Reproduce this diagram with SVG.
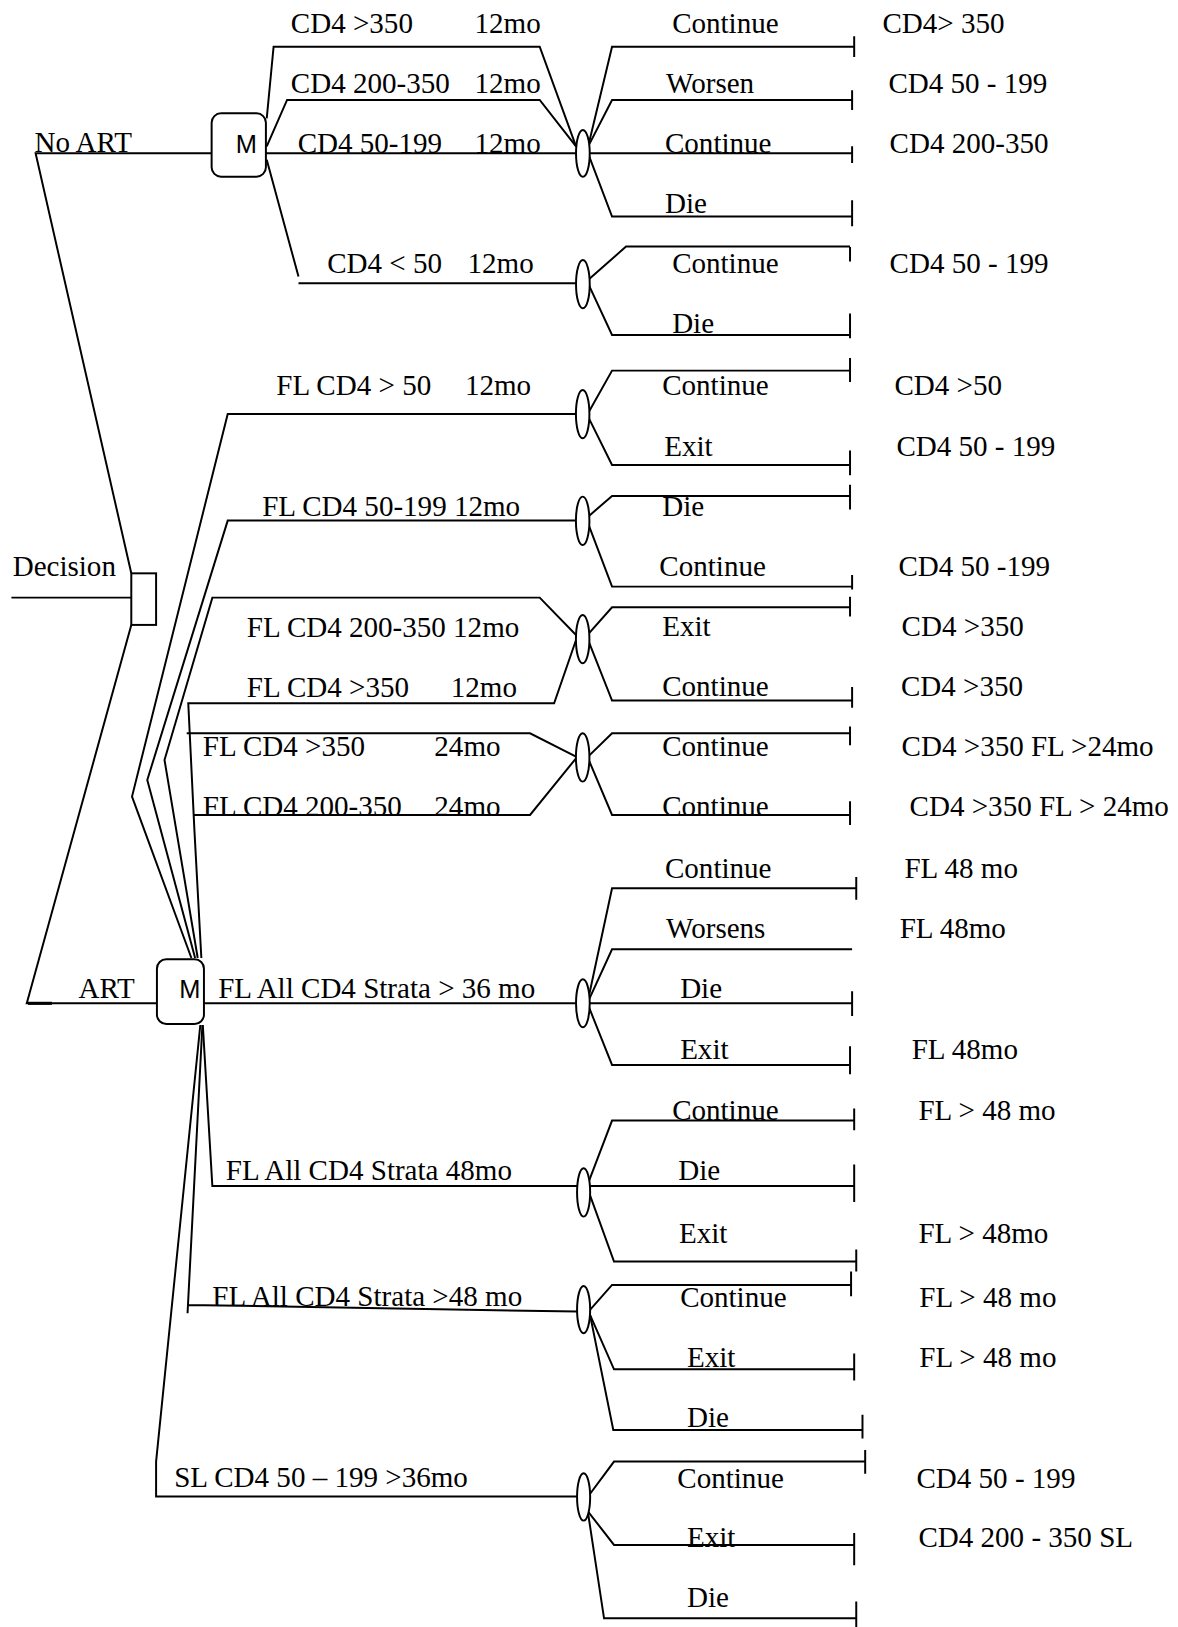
<svg xmlns="http://www.w3.org/2000/svg" width="1178" height="1627" viewBox="0 0 1178 1627">
<style>
.c{fill:none;stroke:#000;stroke-width:1.9;stroke-linejoin:miter}
.k{fill:none;stroke:#000;stroke-width:1.9}
.n{fill:#fff;stroke:#000;stroke-width:1.9}
.t{font-family:"Liberation Serif","Times New Roman",serif;font-size:28px;fill:#000}
.m{font-family:"Liberation Sans",Arial,sans-serif;font-size:24.5px;fill:#000;text-anchor:middle}
</style>
<rect x="0" y="0" width="1178" height="1627" fill="#fff"/>
<g transform="scale(1.03789)">
<g id="connectors">
<path class="c" d="M11,575.8 H126.5"/>
<path class="c" d="M126.5,552.4 L34.3,147.7 H203.9"/>
<path class="c" d="M126.5,602.1 L25.8,966.7 H151.2"/>
<path class="c" d="M27,966.7 H50" style="stroke-width:3"/>
<path class="c" d="M257,114 L263.6,45 H520 L555,141"/>
<path class="c" d="M257,141 L276.6,96.3 H520 L555,141"/>
<path class="c" d="M256.2,147.7 H555"/>
<path class="c" d="M257,154 L287.6,266.5 M287.6,273 H555"/>
<path class="c" d="M566.6,141.3 L589.7,45 H823"/>
<path class="c" d="M566.6,141.3 L589.7,96.3 H821"/>
<path class="c" d="M568,147.7 H821"/>
<path class="c" d="M566.6,147.7 L589.7,208.7 H821"/>
<path class="c" d="M566.6,269.7 L603.2,237.6 H819"/>
<path class="c" d="M566.6,273 L589.7,322.7 H819"/>
<path class="c" d="M184.4,923 L127.2,767.5 L219.4,398.9 H555"/>
<path class="c" d="M188,923 L141.9,751.5 L219.4,501.6 H555"/>
<path class="c" d="M190.5,923 L158.5,732.2 L204.6,575.8 H520 L555,611.8"/>
<path class="c" d="M194,923 L187.3,799.6 L181.4,677.6 H533.9 L555,616.6"/>
<path class="c" d="M179.9,706.5 H510.7 L555,729"/>
<path class="c" d="M186.2,785.2 H510.7 L555,730.6"/>
<path class="c" d="M566.6,398.2 L589.7,357.1 H819"/>
<path class="c" d="M566.6,401.4 L589.7,448 H819"/>
<path class="c" d="M566.6,497.8 L589.7,477.9 H819"/>
<path class="c" d="M566.6,504.2 L589.7,565.2 H821"/>
<path class="c" d="M564.6,613.4 L589.7,585.1 H819"/>
<path class="c" d="M566.6,616.6 L589.7,675 H821"/>
<path class="c" d="M566.6,729 L589.7,706.5 H819"/>
<path class="c" d="M566.6,730.6 L589.7,785.2 H819"/>
<path class="c" d="M196.5,966.7 H555"/>
<path class="c" d="M195.4,987.6 L204.6,1142.7 H556"/>
<path class="c" d="M195,987.6 L180.7,1265.3 M180.7,1257.3 L556,1263.7"/>
<path class="c" d="M193,987.6 L150.4,1408.2 V1441.9 H556"/>
<path class="c" d="M566.6,963.5 L589.7,855.9 H825"/>
<path class="c" d="M566.6,965.1 L589.7,914.7 H821"/>
<path class="c" d="M568,966.7 H821"/>
<path class="c" d="M566.6,968.3 L589.7,1026.1 H819"/>
<path class="c" d="M566.6,1140.1 L589.7,1079.7 H823"/>
<path class="c" d="M568.5,1142.7 H823"/>
<path class="c" d="M566.6,1146.5 L591.6,1215.5 H825"/>
<path class="c" d="M568.5,1262.1 L589.7,1238 H820"/>
<path class="c" d="M568.5,1266.9 L591.6,1319.3 H823"/>
<path class="c" d="M568.5,1266.9 L590.9,1377.7 H831"/>
<path class="c" d="M566.6,1441.9 L591.6,1408.2 H833.6"/>
<path class="c" d="M566.6,1456.4 L591.6,1488.5 H823"/>
<path class="c" d="M566.6,1458 L582,1559.2 H825"/>
</g>
<g id="terminals">
<path class="k" d="M823,35 V55 M821,87 V106 M821,141 V157 M821,193 V218 M819,238 V252 M819,302 V326 M819,345 V368 M819,434 V458 M819,467 V491 M821,554 V568 M819,575 V594 M821,662 V682 M819,700 V718 M819,772 V795 M825,845 V867 M821,955 V979 M819,1008 V1035 M823,1068 V1089 M823,1122 V1158 M825,1204 V1225 M820,1225 V1249 M823,1304 V1330 M831,1363 V1386 M833.6,1397 V1420 M823,1477 V1508 M825,1543 V1568"/>
</g>
<g id="decision"><rect class="n" x="126.5" y="552.4" width="23.9" height="49.7"/><text class="t" x="12.2" y="555">Decision</text></g>
<g id="markov-noart"><rect class="n" x="203.9" y="109.2" width="52.3" height="61" rx="9"/><text class="m" x="237.3" y="147">M</text></g>
<g id="markov-art"><rect class="n" x="151.2" y="924.3" width="45.3" height="62.3" rx="9"/><text class="m" x="183" y="961.9">M</text></g>
<g id="chance-nodes">
<ellipse id="c1" class="n" cx="561.6" cy="147.8" rx="6.6" ry="22.6"/>
<ellipse id="c2" class="n" cx="561.6" cy="273.8" rx="6.6" ry="23.2"/>
<ellipse id="c3" class="n" cx="561.4" cy="399" rx="6.5" ry="23.3"/>
<ellipse id="c4" class="n" cx="561.4" cy="501.8" rx="6.5" ry="23.3"/>
<ellipse id="c5" class="n" cx="561.4" cy="615.8" rx="6.5" ry="23.3"/>
<ellipse id="c6" class="n" cx="561.4" cy="729.8" rx="6.5" ry="23.3"/>
<ellipse id="c7" class="n" cx="561.6" cy="966.7" rx="6.6" ry="23.1"/>
<ellipse id="c8" class="n" cx="562.3" cy="1148.9" rx="6.3" ry="23.3"/>
<ellipse id="c9" class="n" cx="562.3" cy="1261.8" rx="6.3" ry="22.8"/>
<ellipse id="c10" class="n" cx="562.3" cy="1442.3" rx="6.3" ry="22.8"/>
</g>
<g id="labels">
<text class="t" x="33.2" y="146.1">No ART</text>
<text class="t" x="280.2" y="31.5">CD4 &gt;350</text><text class="t" x="457.2" y="31.5">12mo</text>
<text class="t" x="280.2" y="89.3">CD4 200-350</text><text class="t" x="457.2" y="89.3">12mo</text>
<text class="t" x="286.8" y="147.1">CD4 50-199</text><text class="t" x="457.2" y="147.1">12mo</text>
<text class="t" x="315.2" y="263.3">CD4 &lt; 50</text><text class="t" x="450.5" y="263.3">12mo</text>
<text class="t" x="647.6" y="31.5">Continue</text><text class="t" x="850.2" y="31.5">CD4&gt; 350</text>
<text class="t" x="641.8" y="89.3">Worsen</text><text class="t" x="856" y="89.3">CD4 50 - 199</text>
<text class="t" x="640.7" y="147.7">Continue</text><text class="t" x="857.1" y="147.7">CD4 200-350</text>
<text class="t" x="640.7" y="205.5">Die</text>
<text class="t" x="647.6" y="263.3">Continue</text><text class="t" x="857.1" y="263.3">CD4 50 - 199</text>
<text class="t" x="647.6" y="321.1">Die</text>
<text class="t" x="266.2" y="380.6">FL CD4 &gt; 50</text><text class="t" x="448" y="380.6">12mo</text>
<text class="t" x="252.6" y="496.8">FL CD4 50-199 12mo</text>
<text class="t" x="237.8" y="613.4">FL CD4 200-350 12mo</text>
<text class="t" x="237.8" y="671.2">FL CD4 &gt;350</text><text class="t" x="434.3" y="671.2">12mo</text>
<text class="t" x="195.4" y="728.3">FL CD4 &gt;350</text><text class="t" x="418.5" y="728.3">24mo</text>
<text class="t" x="195.4" y="786.1">FL CD4 200-350</text><text class="t" x="418.5" y="786.1">24mo</text>
<text class="t" x="638" y="380.6">Continue</text><text class="t" x="861.8" y="380.6">CD4 &gt;50</text>
<text class="t" x="639.9" y="439.3">Exit</text><text class="t" x="863.7" y="439.3">CD4 50 - 199</text>
<text class="t" x="638" y="497.1">Die</text>
<text class="t" x="635.3" y="554.9">Continue</text><text class="t" x="865.6" y="554.9">CD4 50 -199</text>
<text class="t" x="638" y="612.7">Exit</text><text class="t" x="868.7" y="612.7">CD4 &gt;350</text>
<text class="t" x="638" y="670.5">Continue</text><text class="t" x="868" y="670.5">CD4 &gt;350</text>
<text class="t" x="638" y="728.3">Continue</text><text class="t" x="868.7" y="728.3">CD4 &gt;350 FL &gt;24mo</text>
<text class="t" x="638" y="786.1">Continue</text><text class="t" x="876.4" y="786.1">CD4 &gt;350 FL &gt; 24mo</text>
<text class="t" x="75.6" y="961.9">ART</text>
<text class="t" x="210.2" y="961.9">FL All CD4 Strata &gt; 36 mo</text>
<text class="t" x="217.5" y="1136.9">FL All CD4 Strata 48mo</text>
<text class="t" x="204.6" y="1258.3">FL All CD4 Strata &gt;48 mo</text>
<text class="t" x="167.8" y="1433">SL CD4 50 – 199 &gt;36mo</text>
<text class="t" x="640.7" y="846.3">Continue</text><text class="t" x="871.4" y="846.3">FL 48 mo</text>
<text class="t" x="641.8" y="904.1">Worsens</text><text class="t" x="866.8" y="904.1">FL 48mo</text>
<text class="t" x="655.3" y="961.9">Die</text>
<text class="t" x="655.3" y="1020.6">Exit</text><text class="t" x="878.4" y="1020.6">FL 48mo</text>
<text class="t" x="647.6" y="1079">Continue</text><text class="t" x="884.9" y="1079">FL &gt; 48 mo</text>
<text class="t" x="653.4" y="1136.9">Die</text>
<text class="t" x="654.2" y="1197.9">Exit</text><text class="t" x="884.9" y="1197.9">FL &gt; 48mo</text>
<text class="t" x="655.3" y="1258.9">Continue</text><text class="t" x="885.7" y="1258.9">FL &gt; 48 mo</text>
<text class="t" x="661.9" y="1316.7">Exit</text><text class="t" x="885.7" y="1316.7">FL &gt; 48 mo</text>
<text class="t" x="661.9" y="1374.5">Die</text>
<text class="t" x="652.6" y="1433.3">Continue</text><text class="t" x="883" y="1433.3">CD4 50 - 199</text>
<text class="t" x="661.9" y="1490.8">Exit</text><text class="t" x="884.9" y="1490.8">CD4 200 - 350 SL</text>
<text class="t" x="661.9" y="1548.5">Die</text>
</g>
</g>
</svg>
